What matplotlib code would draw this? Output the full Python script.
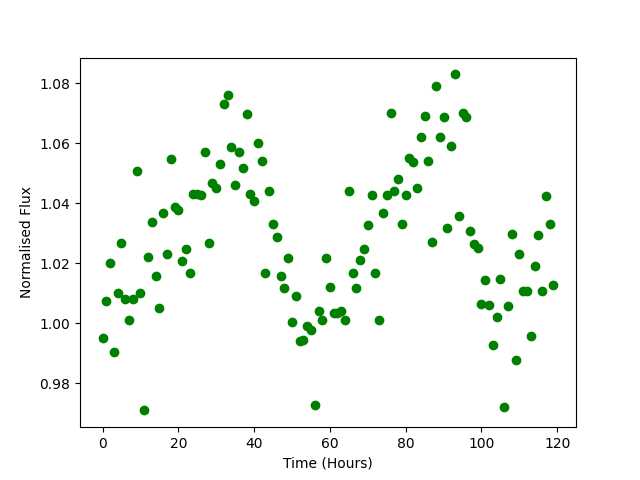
import matplotlib
matplotlib.use("Agg")
import matplotlib.pyplot as plt
import numpy as np

time_hours = list(range(120))
flux = [
    0.9952, 1.0073, 1.0202, 0.9906, 1.0102, 1.0266, 1.0082, 1.0012, 1.0082, 1.0506,
    1.0102, 0.9710, 1.0222, 1.0339, 1.0156, 1.0052, 1.0366, 1.0232, 1.0546, 1.0386,
    1.0379, 1.0206, 1.0249, 1.0166, 1.0432, 1.0432, 1.0429, 1.0569, 1.0266, 1.0466,
    1.0452, 1.0529, 1.0732, 1.0762, 1.0586, 1.0459, 1.0572, 1.0516, 1.0696, 1.0432,
    1.0406, 1.0599, 1.0542, 1.0169, 1.0442, 1.0332, 1.0286, 1.0156, 1.0119, 1.0216,
    1.0006, 1.0092, 0.9942, 0.9946, 0.9992, 0.9979, 0.9729, 1.0042, 1.0012, 1.0216,
    1.0122, 1.0036, 1.0036, 1.0042, 1.0012, 1.0442, 1.0166, 1.0116, 1.0212, 1.0246,
    1.0329, 1.0429, 1.0169, 1.0012, 1.0366, 1.0426, 1.0699, 1.0442, 1.0482, 1.0332,
    1.0426, 1.0549, 1.0536, 1.0452, 1.0622, 1.0692, 1.0539, 1.0272, 1.0791, 1.0622,
    1.0686, 1.0316, 1.0592, 1.0829, 1.0359, 1.0700, 1.0686, 1.0309, 1.0263, 1.0251,
    1.0066, 1.0143, 1.0062, 0.9929, 1.0020, 1.0149, 0.9722, 1.0059, 1.0297, 0.9879,
    1.0230, 1.0107, 1.0107, 0.9959, 1.0192, 1.0293, 1.0107, 1.0423, 1.0332, 1.0129,
]

fig = plt.figure(figsize=(6.4, 4.8), dpi=100)
plt.plot(time_hours, flux, 'go')
plt.xlabel('Time (Hours)')
plt.ylabel('Normalised Flux')
plt.savefig('out.png', dpi=100)
